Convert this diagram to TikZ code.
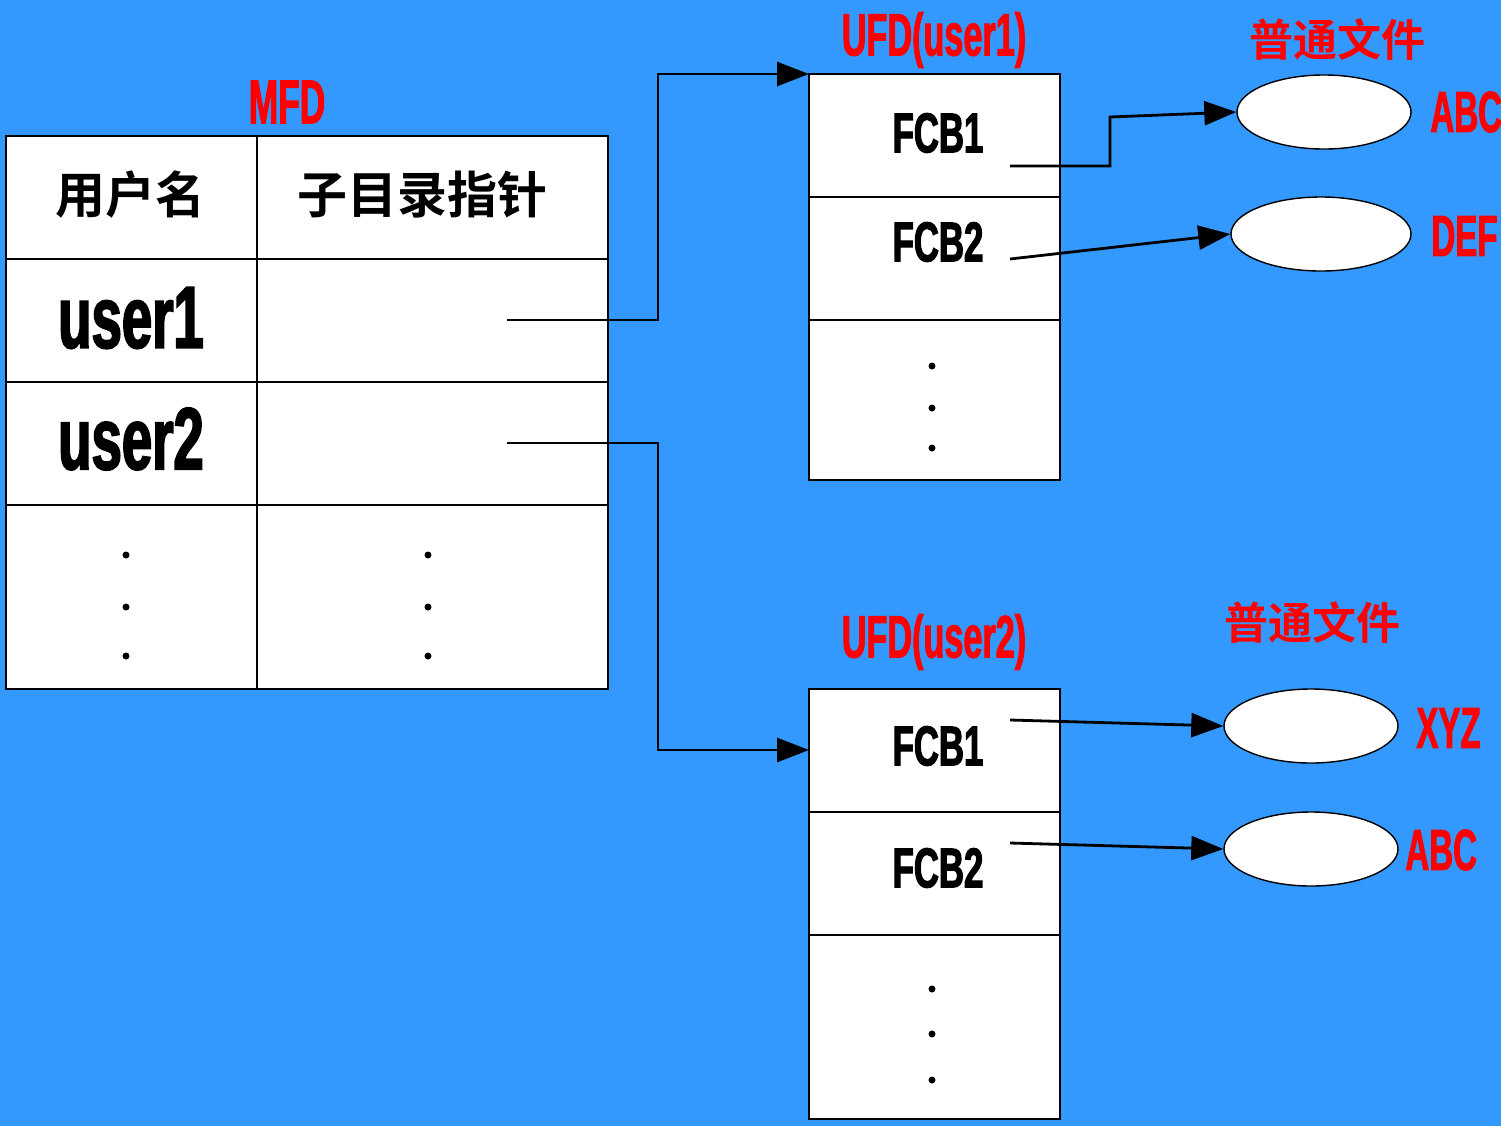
\documentclass[tikz,border=0pt]{standalone}
\usepackage{fontspec}
\setmainfont{Liberation Sans}
\newfontfamily\cond{Liberation Sans Bold}[FakeStretch=0.62,FakeBold=2]
\newfontfamily\condr{Liberation Sans Bold}[FakeStretch=0.57,FakeBold=1.5]
\newfontfamily\cjk{Noto Sans CJK SC Bold}
\usetikzlibrary{arrows.meta,shapes.geometric}
\definecolor{bg}{RGB}{51,153,255}
\definecolor{lblred}{RGB}{255,0,0}
\begin{document}
\begin{tikzpicture}[x=0.5pt,y=-0.5pt,
  box/.style={draw=black,fill=white,line width=1.3pt},
  ln/.style={line width=1.3pt},
  arr/.style={line width=1.4pt,-{Triangle[length=16pt,width=12pt]}},
  file/.style={ellipse,draw=black,fill=white,line width=0.7pt,minimum width=87pt,minimum height=37pt,inner sep=0pt},
  redlbl/.style={text=lblred,inner sep=0pt,font=\condr\fontsize{29}{29}\selectfont},
  redcjk/.style={text=lblred,inner sep=0pt,font=\cjk\fontsize{22}{22}\selectfont},
  fcb/.style={inner sep=0pt,font=\cond\fontsize{28}{28}\selectfont},
  usr/.style={inner sep=0pt,font=\cond\fontsize{44}{44}\selectfont},
  hdr/.style={inner sep=0pt,font=\cjk\fontsize{25}{25}\selectfont},
  dot/.style={circle,fill=black,inner sep=0pt,minimum size=3.5pt}
]
\fill[bg] (0,0) rectangle (1501,1126);
\useasboundingbox (0,0) rectangle (1501,1126);

% ---- MFD table ----
\draw[box] (6,136) rectangle (608,689);
\draw[ln] (257,136) -- (257,689);
\foreach \yy in {259,382,505} \draw[ln] (6,\yy) -- (608,\yy);
\node[redlbl,font=\condr\fontsize{31}{31}\selectfont] (mfd) at (287,102) {MFD};
\node[hdr] (h1) at (130,195) {用户名};
\node[hdr] (h2) at (422,195) {子目录指针};
\node[usr] (u1) at (131,318) {user1};
\node[usr] (u2) at (131,439) {user2};
\foreach \yy [count=\i] in {555,607,656} {
  \node[dot] (ma\i) at (126,\yy) {};
  \node[dot] (mb\i) at (428,\yy) {};
}
\coordinate (p1) at (507,320);
\coordinate (p2) at (507,443);

% ---- UFD user1 ----
\draw[box] (809,74) rectangle (1060,480);
\foreach \yy in {197,320} \draw[ln] (809,\yy) -- (1060,\yy);
\coordinate (ufda) at (809,74);
\node[redlbl,font=\condr\fontsize{30}{30}\selectfont] (ufd1) at (934,40) {UFD(user1)};
\node[fcb] (fa1) at (938,133) {FCB1};
\node[fcb] (fa2) at (938,242) {FCB2};
\foreach \yy [count=\i] in {366,408,448} \node[dot] (da\i) at (932,\yy) {};
\coordinate (qa1) at (1010,166);
\coordinate (qa2) at (1010,259);

% ---- UFD user2 ----
\draw[box] (809,689) rectangle (1060,1119);
\foreach \yy in {812,935} \draw[ln] (809,\yy) -- (1060,\yy);
\coordinate (ufdb) at (809,750);
\node[redlbl,font=\condr\fontsize{30}{30}\selectfont] (ufd2) at (934,642) {UFD(user2)};
\node[fcb] (fb1) at (938,746) {FCB1};
\node[fcb] (fb2) at (938,868) {FCB2};
\foreach \yy [count=\i] in {989,1034,1080} \node[dot] (db\i) at (932,\yy) {};
\coordinate (qb1) at (1010,720);
\coordinate (qb2) at (1010,843);

% ---- files ----
\node[redcjk] (t1) at (1337,40) {普通文件};
\node[redcjk] (t2) at (1312,623) {普通文件};
\node[file] (e1) at (1324,112) {};
\node[file,minimum width=90pt] (e2) at (1321,234) {};
\node[file] (e3) at (1311,726) {};
\node[file] (e4) at (1311,849) {};
\node[redlbl,anchor=west] (n1) at (1430,112) {ABC};
\node[redlbl,anchor=west] (n2) at (1431,236) {DEF};
\node[redlbl,anchor=west] (n3) at (1416,728) {XYZ};
\node[redlbl,anchor=west] (n4) at (1405,850) {ABC};

% ---- connectors ----
\draw[arr] (p1) -- (658,320) |- (ufda);
\draw[arr] (p2) -- (658,443) |- (ufdb);
\draw[arr] (qa1) -- (1110,166) -- (1110,117) -- (e1.west);
\draw[arr] (qa2) -- (e2.west);
\draw[arr] (qb1) -- (e3.west);
\draw[arr] (qb2) -- (e4.west);
\end{tikzpicture}
\end{document}
